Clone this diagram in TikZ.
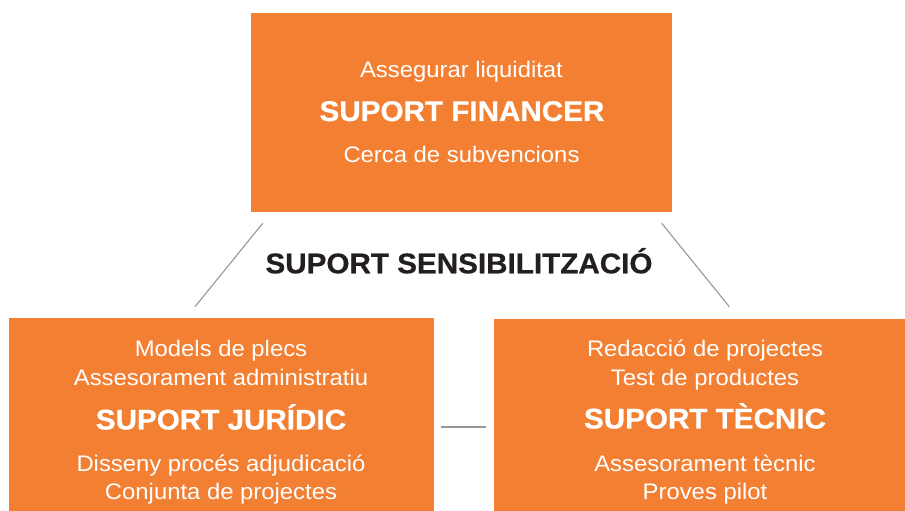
\documentclass[tikz,border=0pt]{standalone}
\usepackage{fontspec}
\setmainfont{Liberation Sans}
\newfontfamily\reglight[FakeStretch=1.06]{Liberation Sans}
\newfontfamily\heavy[FakeStretch=1.04,FakeBold=0.6]{Liberation Sans Bold}
\definecolor{boxorange}{RGB}{243,127,50}
\definecolor{linegray}{RGB}{150,150,150}
\definecolor{darktext}{RGB}{35,31,32}
\tikzset{
  panel/.style={fill=boxorange, draw=none},
  small/.style={anchor=base, text=white, inner sep=0pt, font=\reglight\fontsize{22.5}{27}\selectfont},
  big/.style={anchor=base, text=white, inner sep=0pt, font=\heavy\fontsize{28.5}{34}\selectfont},
  title/.style={anchor=base, text=darktext, inner sep=0pt, font=\heavy\fontsize{28.5}{34}\selectfont},
  link/.style={draw=linegray, line width=1.1pt}
}
\begin{document}
\begin{tikzpicture}[x=1pt,y=1pt]
\useasboundingbox (0,0) rectangle (905,511);
% boxes
\fill[panel] (251,498) rectangle (672,299);
\fill[panel] (9,193) rectangle (434,0);
\fill[panel] (494,192) rectangle (905,0);
% top box texts
\node[small] (f1) at (461.5,433.7) {Assegurar liquiditat};
\node[big]   (f2) at (462,390) {SUPORT FINANCER};
\node[small] (f3) at (461.5,348.7) {Cerca de subvencions};
% centre title
\node[title] (sens) at (459,237.7) {SUPORT SENSIBILITZACIÓ};
% left box texts
\node[small] (j1) at (221,154.3) {Models de plecs};
\node[small] (j2) at (221,125) {Assesorament administratiu};
\node[big]   (j3) at (221,81.5) {SUPORT JURÍDIC};
\node[small] (j4) at (221,39.3) {Disseny procés adjudicació};
\node[small] (j5) at (221,11.7) {Conjunta de projectes};
% right box texts
\node[small] (t1) at (705,154.3) {Redacció de projectes};
\node[small] (t2) at (705,125) {Test de productes};
\node[big]   (t3) at (705,82.5) {SUPORT TÈCNIC};
\node[small] (t4) at (705,39.3) {Assesorament tècnic};
\node[small] (t5) at (705,11) {Proves pilot};
% connector ends
\coordinate (la) at (262.7,287.7);
\coordinate (lb) at (195,204.3);
\coordinate (ra) at (661.7,287.7);
\coordinate (rb) at (729.3,204.3);
\coordinate (ma) at (440.7,84);
\coordinate (mb) at (485.7,84);
\draw[link] (la) -- (lb);
\draw[link] (ra) -- (rb);
\draw[link] (ma) -- (mb);
\end{tikzpicture}
\end{document}
